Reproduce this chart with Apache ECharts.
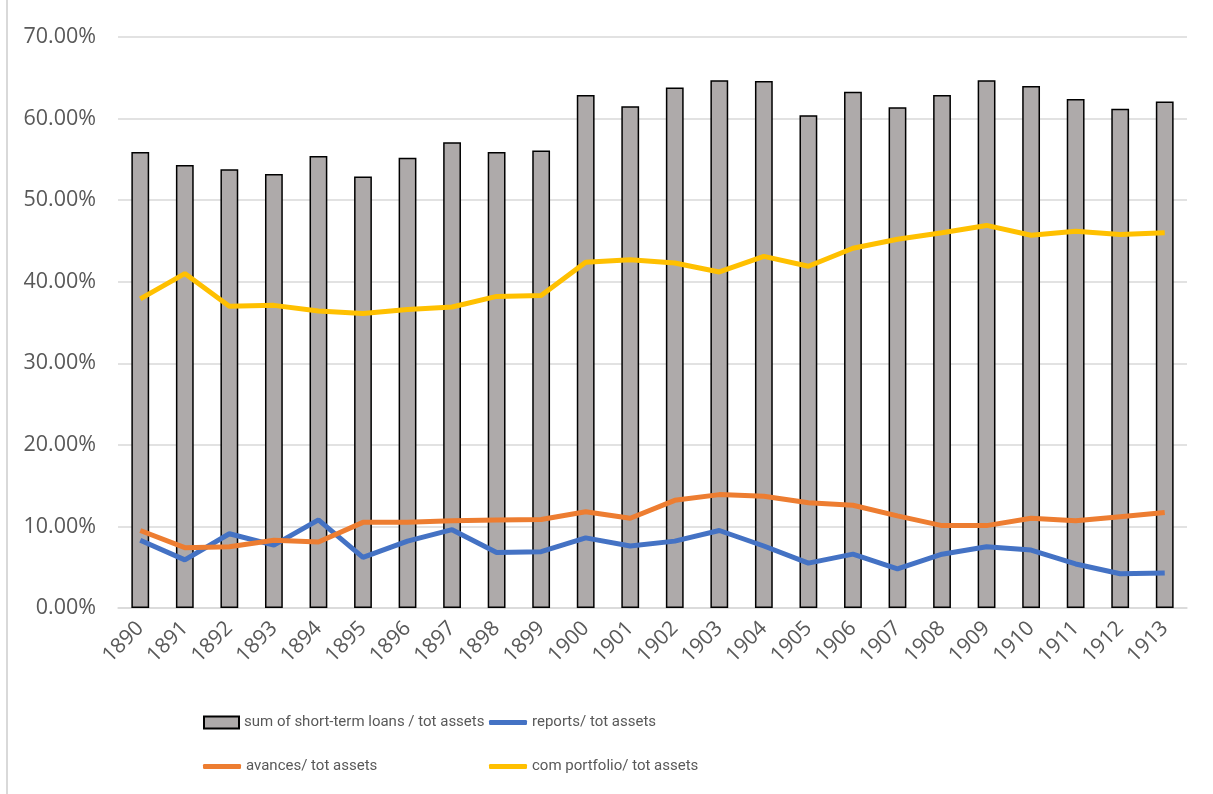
<!DOCTYPE html>
<html style="height: 100%">
<head>
    <meta charset="utf-8">
    <script type="text/javascript" src="https://cdn.jsdelivr.net/npm/echarts@6/dist/echarts.min.js"></script>
</head>
<body style="height: 100%; margin: 0; background: #fff">
<div id="container" style="width: 1213px; height: 794px"></div>
<script type="text/javascript">
    var years = ['1890','1891','1892','1893','1894','1895','1896','1897','1898','1899','1900','1901',
        '1902','1903','1904','1905','1906','1907','1908','1909','1910','1911','1912','1913'];
    // values in percent
    var shortTermLoans = [55.9, 54.3, 53.8, 53.2, 55.4, 52.9, 55.2, 57.1, 55.9, 56.1, 62.9, 61.5,
        63.8, 64.7, 64.6, 60.4, 63.3, 61.4, 62.9, 64.7, 64.0, 62.4, 61.2, 62.1];
    var reports = [8.3, 5.9, 9.1, 7.7, 10.8, 6.2, 8.2, 9.6, 6.8, 6.9, 8.6, 7.6,
        8.2, 9.5, 7.6, 5.5, 6.6, 4.8, 6.6, 7.5, 7.1, 5.4, 4.2, 4.3];
    var avances = [9.5, 7.4, 7.5, 8.3, 8.1, 10.5, 10.5, 10.7, 10.8, 10.85, 11.8, 11.0,
        13.2, 13.9, 13.7, 12.9, 12.6, 11.3, 10.1, 10.1, 11.0, 10.7, 11.2, 11.7];
    var comPortfolio = [37.9, 41.0, 37.0, 37.1, 36.4, 36.1, 36.6, 36.9, 38.2, 38.3, 42.4, 42.7,
        42.3, 41.2, 43.1, 41.9, 44.1, 45.2, 46.0, 46.9, 45.7, 46.2, 45.8, 46.0];
    var yTicks = [0, 10, 20, 30, 40, 50, 60, 70];

    var names = ['sum of short-term loans / tot assets', 'reports/ tot assets',
        'avances/ tot assets', 'com portfolio/ tot assets'];

    var dom = document.getElementById('container');
    var myChart = echarts.init(dom);
    var labelFont = '"Open Sans", "Liberation Sans", sans-serif';
    var legendFont = 'Roboto, "Liberation Sans", sans-serif';

    function legendAt(name, left, top, isBar) {
        return {
            data: [name],
            left: left,
            top: top,
            icon: isBar ? 'rect' : 'roundRect',
            itemWidth: isBar ? 35 : 38,
            itemHeight: isBar ? 12 : 5,
            itemGap: 4,
            textStyle: { fontFamily: legendFont, fontSize: 15, color: '#595959' }
        };
    }

    var option = {
        animation: false,
        backgroundColor: '#fff',
        graphic: [{
            type: 'line',
            shape: { x1: 7, y1: 0, x2: 7, y2: 794 },
            style: { stroke: '#d9d9d9', lineWidth: 2 }
        }],
        legend: [
            legendAt(names[0], 198, 710, true),
            legendAt(names[1], 484, 710, false),
            legendAt(names[2], 198, 754, false),
            legendAt(names[3], 484, 754, false)
        ],
        grid: { left: 118, right: 26, top: 37, bottom: 186 },
        xAxis: {
            type: 'category',
            data: years,
            axisTick: { show: false },
            axisLine: { lineStyle: { color: '#d9d9d9', width: 1.5 } },
            axisLabel: {
                rotate: 45, margin: 17,
                fontFamily: labelFont, fontSize: 21, color: '#595959'
            }
        },
        yAxis: {
            type: 'value',
            min: yTicks[0],
            max: yTicks[yTicks.length - 1],
            interval: 10,
            axisLine: { show: false },
            axisTick: { show: false },
            splitLine: { lineStyle: { color: '#d9d9d9', width: 1.5 } },
            axisLabel: {
                margin: 22,
                fontFamily: labelFont, fontSize: 21.5, color: '#595959',
                formatter: function (v) { return v.toFixed(2) + '%'; }
            }
        },
        series: [{
            name: names[0],
            type: 'bar',
            data: shortTermLoans,
            barCategoryGap: '60%',
            itemStyle: { color: '#aeaaaa', borderColor: '#000', borderWidth: 1.5 }
        }, {
            name: names[1],
            type: 'line',
            data: reports,
            symbol: 'none',
            color: '#4472c4',
            lineStyle: { width: 5, color: '#4472c4' }
        }, {
            name: names[2],
            type: 'line',
            data: avances,
            symbol: 'none',
            color: '#ed7d31',
            lineStyle: { width: 5, color: '#ed7d31' }
        }, {
            name: names[3],
            type: 'line',
            data: comPortfolio,
            symbol: 'none',
            color: '#ffc000',
            lineStyle: { width: 5, color: '#ffc000' }
        }]
    };
    myChart.setOption(option);
</script>
</body>
</html>
